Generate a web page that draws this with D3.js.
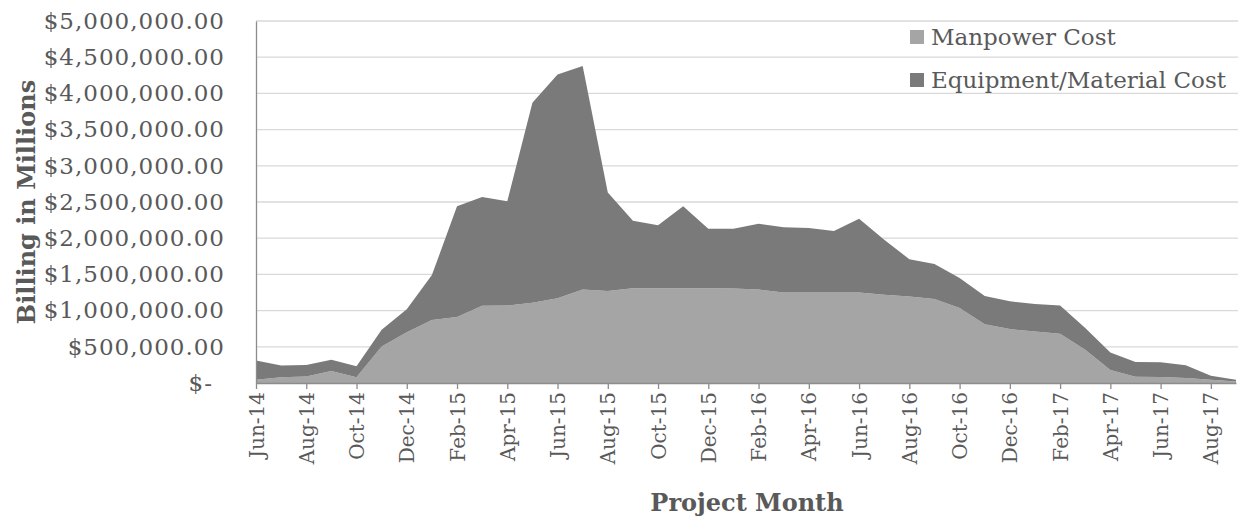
<!DOCTYPE html>
<html>
<head>
<meta charset="utf-8">
<script src="https://cdn.jsdelivr.net/npm/d3@7.9.0/dist/d3.min.js"></script>
<style>
  body { margin: 0; background: #fff; }
  svg { display: block; font-family: "DejaVu Serif", Georgia, serif; }
  svg text { font-family: "DejaVu Serif", Georgia, serif; }
</style>
</head>
<body>
<svg width="1242" height="520"></svg>
<script>
// months along the project
const months = [
  'Jun-14','Jul-14','Aug-14','Sep-14','Oct-14','Nov-14','Dec-14',
  'Jan-15','Feb-15','Mar-15','Apr-15','May-15','Jun-15','Jul-15','Aug-15','Sep-15','Oct-15','Nov-15','Dec-15',
  'Jan-16','Feb-16','Mar-16','Apr-16','May-16','Jun-16','Jul-16','Aug-16','Sep-16','Oct-16','Nov-16','Dec-16',
  'Jan-17','Feb-17','Mar-17','Apr-17','May-17','Jun-17','Jul-17','Aug-17','Sep-17'
];

// billing per month (dollars)
const manpower = [
  46000, 78000, 90000, 165000, 78000, 505000, 700000,
  870000, 910000, 1066000, 1070000, 1110000, 1170000, 1290000, 1270000, 1310000, 1310000, 1310000, 1310000,
  1305000, 1290000, 1250000, 1250000, 1250000, 1250000, 1220000, 1195000, 1160000, 1035000, 810000, 745000,
  710000, 680000, 460000, 180000, 87000, 83000, 70000, 46000, 20000
];
const equipment = [
  264000, 162000, 160000, 155000, 152000, 230000, 320000,
  620000, 1530000, 1504000, 1440000, 2760000, 3090000, 3090000, 1360000, 930000, 870000, 1130000, 820000,
  825000, 910000, 900000, 890000, 850000, 1020000, 760000, 515000, 485000, 415000, 390000, 385000,
  380000, 390000, 300000, 240000, 203000, 202000, 175000, 54000, 26000
];

const seriesNames = ['Manpower Cost', 'Equipment/Material Cost'];
const seriesColors = ['#a5a5a5', '#7a7a7a'];
const yTicks = [0, 500000, 1000000, 1500000, 2000000, 2500000, 3000000, 3500000, 4000000, 4500000, 5000000];

const svg = d3.select('svg');
const plotLeft = 256, plotRight = 1236, plotTop = 21, plotBottom = 383;

const x = d3.scalePoint().domain(months).range([plotLeft, plotRight]);
const y = d3.scaleLinear().domain([0, 5000000]).range([plotBottom, plotTop]);

const rows = months.map((m, i) => ({ month: m, manpower: manpower[i], equipment: equipment[i] }));
const stacked = d3.stack().keys(['manpower', 'equipment'])(rows);

// gridlines
svg.append('g')
  .selectAll('line')
  .data(yTicks.slice(1))
  .join('line')
  .attr('x1', plotLeft).attr('x2', 1238)
  .attr('y1', d => y(d)).attr('y2', d => y(d))
  .attr('stroke', '#d9d9d9').attr('stroke-width', 1.3);

const area = d3.area()
  .x(d => x(d.data.month))
  .y0(d => y(d[0]))
  .y1(d => y(d[1]));

svg.append('g')
  .selectAll('path')
  .data(stacked)
  .join('path')
  .attr('d', area)
  .attr('fill', (d, i) => seriesColors[i]);

// y axis
const fmt = d3.format('$,.2f');
const yAxis = d3.axisLeft(y)
  .tickValues(yTicks)
  .tickSize(0)
  .tickPadding(31)
  .tickFormat(d => d === 0 ? '$-' : fmt(d));
const gy = svg.append('g').attr('transform', `translate(${plotLeft},0)`).call(yAxis)
  .attr('font-family', null);
gy.select('.domain').attr('stroke', '#8c8c8c').attr('stroke-width', 1.3);
gy.selectAll('text')
  .attr('fill', '#595959')
  .style('font-size', '23px')
  .style('letter-spacing', '1px')
  .attr('dx', d => d === 0 ? -12 : 0);

// x axis
const xAxis = d3.axisBottom(x)
  .tickValues(months.filter((m, i) => i % 2 === 0))
  .tickSize(6)
  .tickSizeOuter(0);
const gx = svg.append('g').attr('transform', `translate(0,${plotBottom})`).call(xAxis)
  .attr('font-family', null);
gx.select('.domain').attr('stroke', '#8c8c8c').attr('stroke-width', 1.3);
gx.selectAll('.tick line').attr('stroke', '#8c8c8c').attr('stroke-width', 1.3);
gx.selectAll('text')
  .attr('fill', '#595959')
  .style('font-size', '20px')
  .attr('text-anchor', 'end')
  .attr('transform', 'rotate(-90)')
  .attr('x', -9)
  .attr('y', 0)
  .attr('dy', '0.35em');

// axis titles
svg.append('text')
  .attr('transform', 'translate(27,202) rotate(-90)')
  .attr('text-anchor', 'middle')
  .attr('dy', '0.35em')
  .attr('fill', '#595959')
  .style('font-size', '24px')
  .style('font-weight', 'bold')
  .text('Billing in Millions');

svg.append('text')
  .attr('x', 747).attr('y', 511)
  .attr('text-anchor', 'middle')
  .attr('fill', '#595959')
  .style('font-size', '24px')
  .style('font-weight', 'bold')
  .text('Project Month');

// legend
const legend = svg.append('g').attr('transform', 'translate(910,37)');
seriesNames.forEach((name, i) => {
  const row = legend.append('g').attr('transform', `translate(0,${i * 43})`);
  row.append('rect')
    .attr('x', 0).attr('y', -7)
    .attr('width', 14).attr('height', 14)
    .attr('fill', seriesColors[i]);
  row.append('text')
    .attr('x', 21).attr('y', 0)
    .attr('dy', '0.35em')
    .attr('fill', '#595959')
    .style('font-size', '23px')
    .text(name);
});
</script>
</body>
</html>
